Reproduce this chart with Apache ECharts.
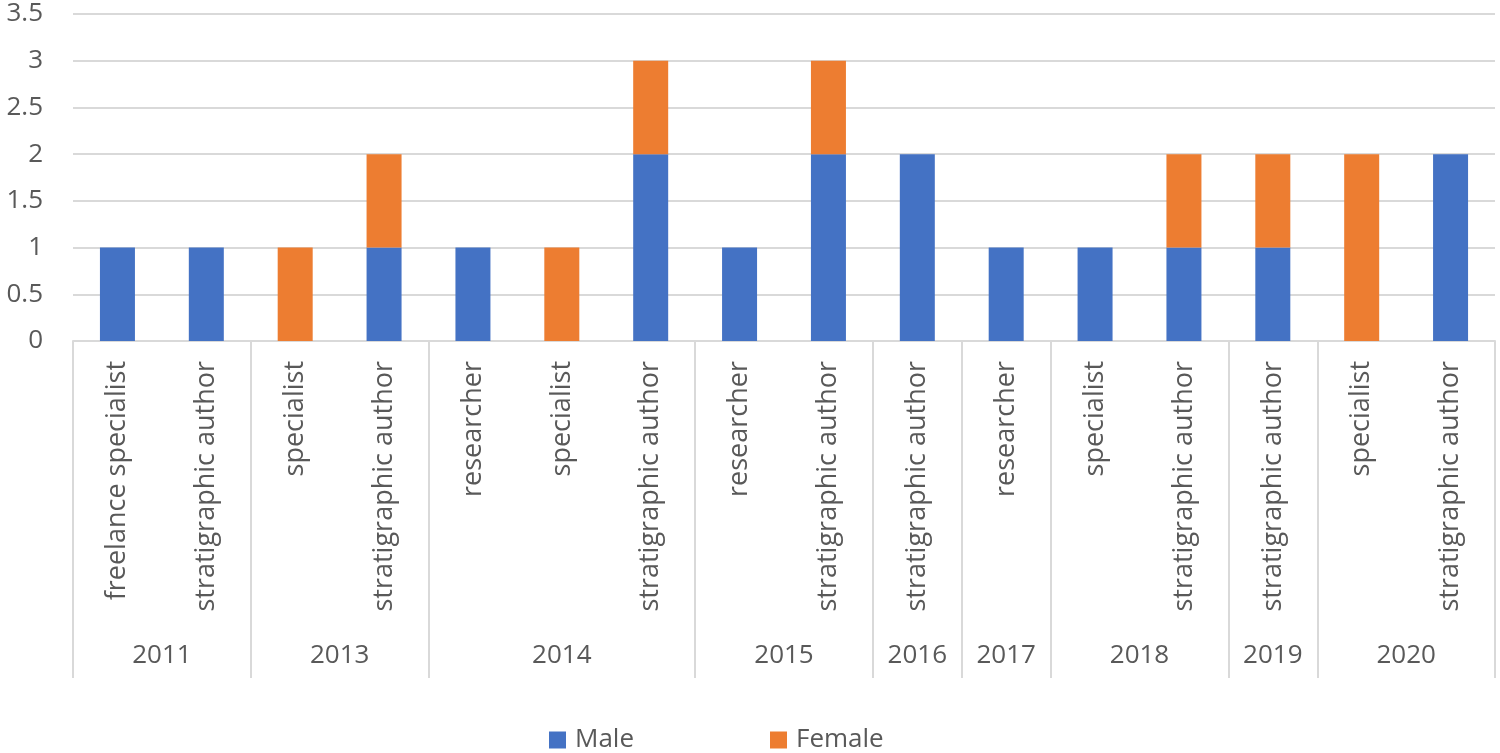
<!DOCTYPE html>
<html>
<head>
<meta charset="utf-8">
<script src="https://cdn.jsdelivr.net/npm/echarts@6/dist/echarts.min.js"></script>
<style>html,body{margin:0;padding:0;background:#fff}#c{width:1500px;height:753px}</style>
</head>
<body>
<div id="c"></div>
<script>
const categories = ['freelance specialist','stratigraphic author','specialist','stratigraphic author','researcher','specialist','stratigraphic author','researcher','stratigraphic author','stratigraphic author','researcher','specialist','stratigraphic author','stratigraphic author','specialist','stratigraphic author'];
const years = ['2011','2013','2014','2015','2016','2017','2018','2019','2020'];
const yearCounts = [2,2,3,2,1,1,2,1,2];
const male =   [1,1,0,1,1,0,2,1,2,2,1,1,1,1,0,2];
const female = [0,0,1,1,0,1,1,0,1,0,0,0,1,1,2,0];
const yTicks = [0,0.5,1,1.5,2,2.5,3,3.5];

const boundaries = [0];
const mids = [];
let acc = 0;
yearCounts.forEach(n => { mids.push(acc + n / 2); acc += n; boundaries.push(acc); });

const FONT = 'Open Sans';
const TXT = '#595959';
const GRID = '#d9d9d9';

const chart = echarts.init(document.getElementById('c'));
chart.setOption({
  animation: false,
  textStyle: {fontFamily: FONT},
  grid: {left: 73, right: 5, top: 14, bottom: 412, containLabel: false},
  legend: {
    data: ['Male', 'Female'],
    left: 544, top: 722,
    itemWidth: 17, itemHeight: 17, itemGap: 136,
    icon: 'rect',
    textStyle: {fontSize: 26, color: TXT, fontFamily: FONT, padding: [0,0,0,4]}
  },
  xAxis: [{
    type: 'category',
    data: categories,
    axisLine: {show: true, lineStyle: {color: GRID, width: 2}},
    axisTick: {show: false},
    axisLabel: {rotate: 90, interval: 0, margin: 20, fontSize: 27, color: TXT, fontFamily: FONT}
  }, {
    type: 'value',
    position: 'bottom',
    min: 0, max: categories.length,
    axisLine: {show: false},
    splitLine: {show: false},
    axisTick: {show: true, customValues: boundaries, length: 337, lineStyle: {color: GRID, width: 2}},
    axisLabel: {
      customValues: mids, margin: 302, fontSize: 26, color: TXT, fontFamily: FONT,
      formatter: v => { const i = mids.findIndex(m => Math.abs(m - v) < 1e-6); return i >= 0 ? years[i] : ''; }
    }
  }],
  yAxis: {
    type: 'value', min: yTicks[0], max: yTicks[yTicks.length - 1], interval: 0.5,
    axisLine: {show: false}, axisTick: {show: false},
    splitLine: {lineStyle: {color: GRID, width: 2}},
    axisLabel: {margin: 30, fontSize: 26, color: TXT, fontFamily: FONT}
  },
  series: [{
    name: 'Male', type: 'bar', stack: 'g', data: male, barWidth: 35, xAxisIndex: 0,
    itemStyle: {color: '#4472C4'}
  }, {
    name: 'Female', type: 'bar', stack: 'g', data: female, barWidth: 35, xAxisIndex: 0,
    itemStyle: {color: '#ED7D31'}
  }]
});
</script>
</body>
</html>
